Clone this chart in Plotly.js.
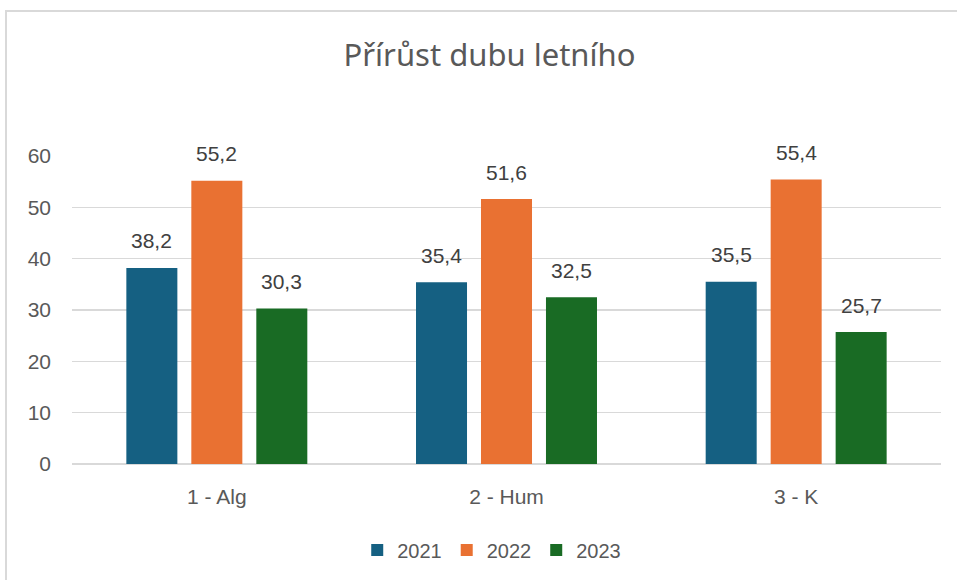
<!DOCTYPE html>
<html><head><meta charset="utf-8">
<script src="https://cdn.plot.ly/plotly-3.0.1.min.js"></script>
<style>
html,body{margin:0;padding:0;background:#fff;}
#frame{position:absolute;left:5px;top:10px;width:1000px;height:700px;border:2px solid #d9d9d9;box-sizing:border-box;}
#chart{position:absolute;left:0;top:0;width:957px;height:580px;}
</style></head><body>
<div id="frame"></div>
<div id="chart"></div>
<script>
const categories = ['1 - Alg', '2 - Hum', '3 - K'];
const seriesNames = ['2021', '2022', '2023'];
const v2021 = [38.2, 35.4, 35.5];
const v2022 = [55.2, 51.6, 55.4];
const v2023 = [30.3, 32.5, 25.7];
const colors = ['#156082', '#E97132', '#196B24'];
const allValues = [v2021, v2022, v2023];

const traces = allValues.map((vals, i) => ({
  type: 'bar', name: seriesNames[i], x: categories, y: vals,
  marker: {color: colors[i]}, hoverinfo: 'skip'
}));

const annotations = [];
allValues.forEach((vals, i) => {
  vals.forEach((v, j) => {
    annotations.push({
      x: categories[j], y: v, xref: 'x', yref: 'y',
      text: v.toFixed(1).replace('.', ','), showarrow: false,
      xshift: (i - 1) * 65, yshift: 27, yanchor: 'middle',
      font: {family: 'Liberation Sans, Arial, sans-serif', size: 21, color: '#404040'}
    });
  });
});

const layout = {
  width: 957, height: 580,
  paper_bgcolor: 'rgba(0,0,0,0)', plot_bgcolor: 'rgba(0,0,0,0)',
  margin: {l: 72, r: 16, t: 156, b: 115},
  separators: ', ',
  barmode: 'group', bargap: 0.327, bargroupgap: 0.215,
  title: {text: 'Přírůst dubu letního', x: 489.5 / 957, xanchor: 'center', xref: 'container',
          y: 1 - 55 / 580, yref: 'container', yanchor: 'middle',
          font: {family: 'Noto Sans, Open Sans, sans-serif', size: 31, color: '#595959'}},
  xaxis: {type: 'category', showgrid: false, zeroline: false, showline: false, ticks: '',
          ticklabelstandoff: 18,
          tickfont: {family: 'Liberation Sans, Arial, sans-serif', size: 21, color: '#595959'}},
  yaxis: {range: [0, 60], dtick: 10, showgrid: true, gridcolor: '#d9d9d9', gridwidth: 1.5,
          zeroline: true, zerolinecolor: '#d9d9d9', zerolinewidth: 1.5, showline: false,
          ticks: '', ticklabelstandoff: 20,
          tickfont: {family: 'Liberation Sans, Arial, sans-serif', size: 21, color: '#595959'}},
  showlegend: true,
  legend: {orientation: 'h', x: 0.483, xanchor: 'center', y: -0.275, yanchor: 'middle',
           font: {family: 'Liberation Sans, Arial, sans-serif', size: 20, color: '#595959'},
           itemwidth: 30, traceorder: 'normal'},
  annotations: annotations
};

Plotly.newPlot('chart', traces, layout, {displayModeBar: false, staticPlot: true});
</script>
</body></html>
